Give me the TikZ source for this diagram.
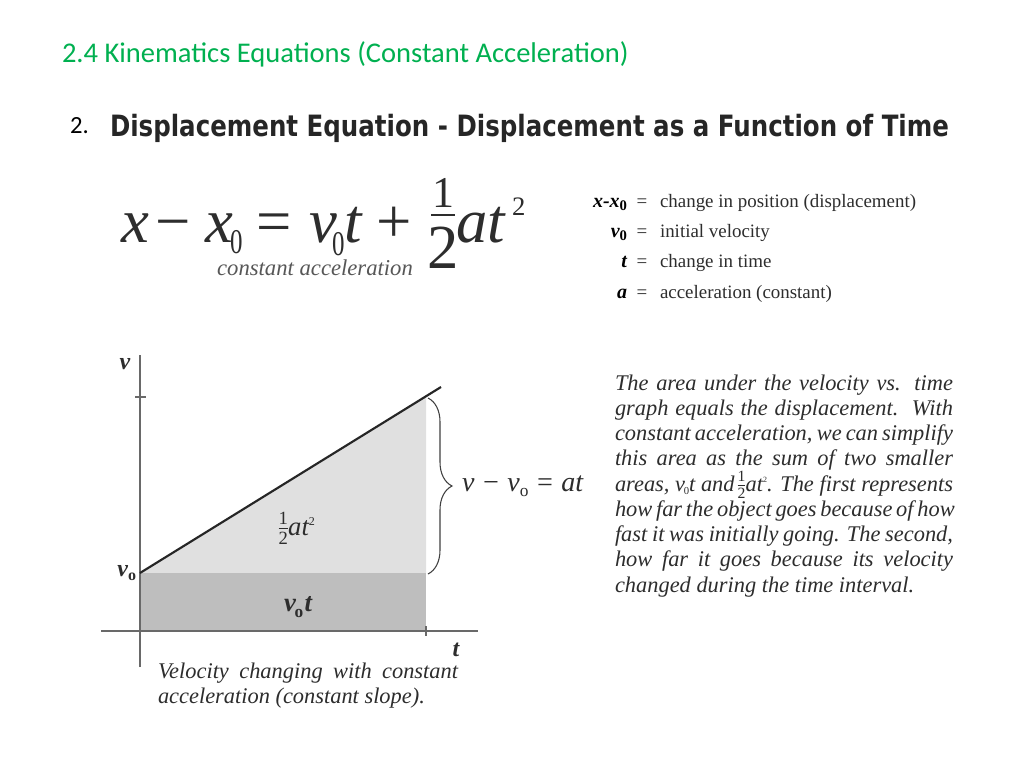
\documentclass[tikz,border=0pt]{standalone}
\usepackage{amsmath}
\usepackage{fontspec}
\setmainfont{Liberation Serif}
\newfontfamily\calfont{Carlito}
\newfontfamily\headfont[FakeStretch=0.835]{DejaVu Sans}
\usetikzlibrary{decorations.pathreplacing}
\definecolor{titlegreen}{RGB}{0,176,80}
\definecolor{txt}{RGB}{45,45,45}
\definecolor{lightfill}{RGB}{224,224,224}
\definecolor{darkfill}{RGB}{190,190,190}
\definecolor{axisgray}{RGB}{105,105,105}
\begin{document}
\begin{tikzpicture}[x=0.75pt,y=-0.75pt,
  every node/.style={inner sep=0pt, outer sep=0pt},
  para/.style={anchor=base west, text=txt, font=\fontsize{16.8}{19}\selectfont\itshape},
  legsym/.style={anchor=base east, text=black, font=\fontsize{15}{16}\selectfont\bfseries\itshape},
  legtxt/.style={anchor=base west, text=txt, font=\fontsize{14.2}{16}\selectfont},
  glabel/.style={text=txt, font=\fontsize{18}{20}\selectfont\bfseries\itshape},
  eqbig/.style={anchor=base west, text=txt, font=\fontsize{47}{47}\selectfont},
  eqsub/.style={anchor=base west, text=txt, font=\fontsize{26}{26}\selectfont},
  axisline/.style={draw=axisgray, line width=1.1pt}]
\fill[white] (0,0) rectangle (1024,768);
\useasboundingbox (0,0) rectangle (1024,768);

% titles
\node[anchor=base west, text=titlegreen, font=\calfont\fontsize{21.4}{24}\selectfont] (title) at (62,62) {2.4 Kinematics Equations (Constant Acceleration)};
\node[anchor=base west, font=\calfont\fontsize{18.5}{20}\selectfont] (num) at (70,133) {2.};
\node[anchor=base west, text=black!85, font=\headfont\fontsize{22}{24}\selectfont\bfseries] (head) at (110,136) {Displacement Equation - Displacement as a Function of Time};

% main equation
\node[eqbig, font=\fontsize{47}{47}\selectfont\itshape] (eqx) at (121,242) {x};
\node[eqbig] (eqm) at (155,242) {−};
\node[eqbig, font=\fontsize{47}{47}\selectfont\itshape] (eqx0) at (205,242) {x};
\node[eqsub] (eqs1) at (230,253) {\scalebox{0.72}[1]{0}};
\node[eqbig] (eqeq) at (256,242) {=};
\node[eqbig, font=\fontsize{47}{47}\selectfont\itshape] (eqv) at (309,242) {v};
\node[eqsub] (eqs2) at (332,255) {\scalebox{0.72}[1]{0}};
\node[eqbig, font=\fontsize{47}{47}\selectfont\itshape] (eqt) at (344,242) {t};
\node[eqbig] (eqp) at (376,242) {+};
\node[anchor=base, text=txt, font=\fontsize{33}{33}\selectfont] (eqn) at (443,207) {1};
\node[anchor=base, text=txt, font=\fontsize{47}{47}\selectfont] (eqd) at (443,268) {2};
\coordinate (fbl) at (431,215);
\coordinate (fbr) at (455,215);
\draw[txt, line width=1.5pt] (fbl) -- (fbr);
\node[eqbig, font=\fontsize{47}{47}\selectfont\itshape] (eqat) at (456,242) {at};
\node[anchor=base west, text=txt, font=\fontsize{20}{20}\selectfont] (eqsq) at (512,215) {2};
\node[anchor=base, text=txt!80, font=\fontsize{17}{18}\selectfont\itshape] (cacc) at (315,275) {constant acceleration};

% legend
\node[legsym] (s1) at (627,207) {x-x\raisebox{-0.4ex}{\fontsize{11}{11}\selectfont\upshape 0}};
\node[legsym] (s2) at (627,237) {v\raisebox{-0.4ex}{\fontsize{11}{11}\selectfont\upshape 0}};
\node[legsym] (s3) at (627,267) {t};
\node[legsym] (s4) at (627,298) {a};
\foreach \i/\yy in {1/207,2/237,3/267,4/298}
  \node[anchor=base, text=txt, font=\fontsize{14.2}{16}\selectfont] (e\i) at (642,\yy) {=};
\node[legtxt] (d1) at (660,207) {change in position (displacement)};
\node[legtxt] (d2) at (660,237) {initial velocity};
\node[legtxt] (d3) at (660,267) {change in time};
\node[legtxt] (d4) at (660,298) {acceleration (constant)};

% graph
\coordinate (O) at (140,631);
\coordinate (V0) at (140,573);
\coordinate (T) at (426,631);
\coordinate (Top) at (426,396.3);
\coordinate (Mid) at (426,573);
\coordinate (End) at (441,387);
\coordinate (Yb) at (140,667);
\coordinate (Yt) at (140,355);
\coordinate (Xl) at (101,631);
\coordinate (Xr) at (478,631);
\fill[lightfill] (V0) -- (Top) -- (Mid) -- cycle;
\fill[darkfill] (V0) rectangle (T);
\draw[axisline] (Yb) -- (Yt);
\draw[axisline] (Xl) -- (Xr);
\draw[axisline] (135,397) -- (146,397);
\draw[axisline] (426,626) -- (426,636);
\draw[black!85, line width=1.6pt] (V0) -- (End);
\draw[black!75, line width=0.8pt, decorate, decoration={brace, amplitude=18pt, aspect=0.5}] (428,398) -- (428,574);

\node[glabel, anchor=base] (lv) at (125,369) {v};
\node[glabel, anchor=base east] (lv0) at (136,576) {v\raisebox{-0.45ex}{\fontsize{12}{12}\selectfont\upshape o}};
\node[glabel, anchor=base] (lt) at (456,656) {t};
\node[anchor=base west, text=txt, font=\fontsize{20}{22}\selectfont\itshape] (area2) at (277,535) {$\frac{\text{\upshape 1}}{\text{\upshape 2}}$\kern-1pt at\raisebox{0.8ex}{\fontsize{9}{9}\selectfont\upshape 2}};
\node[glabel, anchor=base west, font=\fontsize{20}{22}\selectfont\bfseries\itshape] (area1) at (284,611) {v\kern-1pt\raisebox{-0.5ex}{\fontsize{13}{13}\selectfont\upshape o}\kern1pt t};
\node[anchor=base west, text=txt, font=\fontsize{21}{22}\selectfont\itshape] (brlab) at (462,491) {v − v\raisebox{-0.45ex}{\fontsize{13}{13}\selectfont\upshape o} = at};

% caption
\node[para] (c1) at (158,678) {\makebox[225pt][s]{Velocity changing with constant}};
\node[para] (c2) at (158,703) {acceleration (constant slope).};

% paragraph
\node[para] (p1) at (615,390) {\makebox[253.5pt][s]{The area under the velocity vs. time}};
\node[para] (p2) at (615,415.25) {\makebox[253.5pt][s]{graph equals the displacement.\ \ With}};
\node[para] (p3) at (615,440.5) {\makebox[253.5pt][s]{constant acceleration, we can simplify}};
\node[para] (p4) at (615,465.75) {\makebox[253.5pt][s]{this area as the sum of two smaller}};
\node[para] (p5) at (615,491) {\makebox[253.5pt][s]{areas, v\kern-1pt\raisebox{-0.3ex}{\fontsize{8}{8}\selectfont\upshape 0}t and\kern1pt$\frac{\text{\upshape 1}}{\text{\upshape 2}}$\kern-1pt at\raisebox{0.8ex}{\fontsize{6}{6}\selectfont\upshape 2}. The first represents}};
\node[para] (p6) at (615,516.25) {\makebox[253.5pt][s]{how far the object goes because of how}};
\node[para] (p7) at (615,541.5) {\makebox[253.5pt][s]{fast it was initially going. The second,}};
\node[para] (p8) at (615,566.75) {\makebox[253.5pt][s]{how far it goes because its velocity}};
\node[para] (p9) at (615,592) {changed during the time interval.};
\end{tikzpicture}
\end{document}
